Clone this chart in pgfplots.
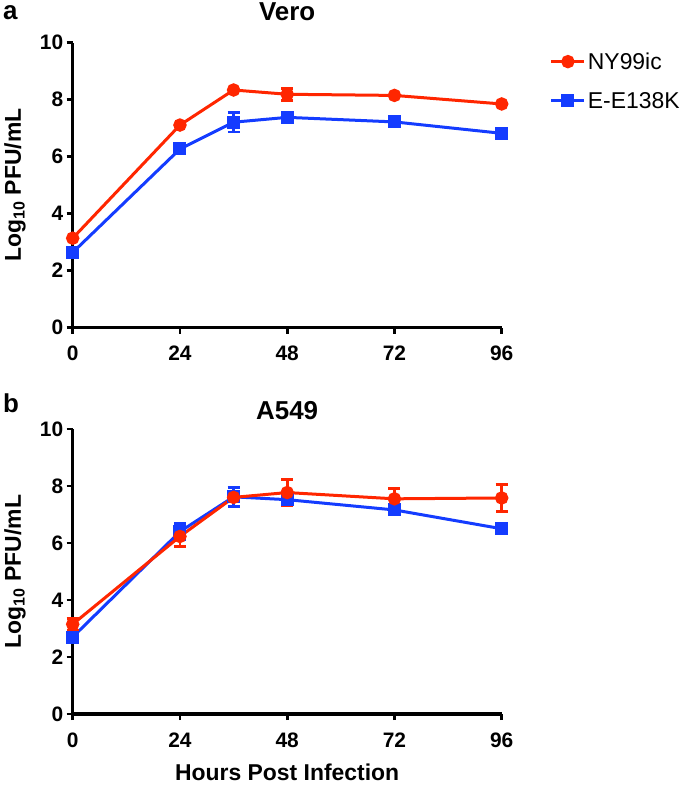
\documentclass[border=0pt]{standalone}
\usepackage{fontspec}
\setmainfont{Liberation Sans}
\usepackage{pgfplots}
\pgfplotsset{compat=1.18}
\definecolor{myred}{RGB}{255,38,0}
\definecolor{myblue}{RGB}{20,60,255}
\pgfplotsset{
  redline/.style={color=myred, line width=3bp, mark=*, mark size=5.2bp, mark options={solid}},
  blueline/.style={color=myblue, line width=3bp, mark=square*, mark size=5bp, mark options={solid}},
  errred/.style={forget plot, mark=none, draw=none, error bars/.cd, y dir=both, y explicit,
    error bar style={draw=myred, line width=2.6bp},
    error mark options={draw=myred, rotate=90, mark size=6bp, line width=2.6bp}},
  errblue/.style={forget plot, mark=none, draw=none, error bars/.cd, y dir=both, y explicit,
    error bar style={draw=myblue, line width=2.6bp},
    error mark options={draw=myblue, rotate=90, mark size=6bp, line width=2.6bp}},
  growth/.style={
    scale only axis, width=429bp, height=285bp,
    xmin=0, xmax=96, ymin=0, ymax=10,
    axis x line*=bottom, axis y line*=left,
    axis line style={line width=3.2bp, black},
    xtick={0,24,48,72,96}, ytick={0,2,...,10},
    tick align=outside, major tick length=6bp,
    every tick/.style={black, line width=2.8bp},
    tick label style={font=\fontsize{21}{21}\selectfont\bfseries},
    xticklabel style={yshift=-9bp},
    /pgf/number format/assume math mode=true,
    clip=false,
    title style={font=\fontsize{26}{26}\selectfont\bfseries, anchor=center},
    ylabel={Log\textsubscript{10} PFU/mL},
    ylabel style={font=\fontsize{23}{23}\selectfont\bfseries, at={(axis description cs:-0.1345,0.5)}, anchor=center},
  }
}
\begin{document}
\begin{tikzpicture}
\path[use as bounding box] (0,0) rectangle (685bp,786bp);
% top panel
\begin{axis}[growth, at={(72.7bp,458.3bp)}, anchor=south west,
  title={Vero}, title style={at={(axis description cs:0.5,1.0867)}},
  legend style={draw=none, fill=none, font=\fontsize{23}{23}\selectfont,
    at={(1.105,0.98)}, anchor=north west, row sep=17.5bp, cells={anchor=west}},
  legend image code/.code={\draw[mark repeat=2,mark phase=2,#1] plot coordinates {(0bp,0bp) (16.5bp,0bp) (33bp,0bp)};},
]
\addlegendimage{redline}
\addlegendentry{NY99ic}
\addlegendimage{blueline}
\addlegendentry{E-E138K}
\addplot[errblue] coordinates {(36,7.21) +- (0,0.34)};
\addplot[blueline, forget plot] coordinates {(0,2.64) (24,6.27) (36,7.21) (48,7.38) (72,7.22) (96,6.82)};
\addplot[errred] coordinates {(48,8.19) +- (0,0.21)};
\addplot[redline, forget plot] coordinates {(0,3.14) (24,7.11) (36,8.34) (48,8.19) (72,8.15) (96,7.85)};
\end{axis}
% bottom panel
\begin{axis}[growth, at={(72.7bp,72bp)}, anchor=south west,
  title={A549}, title style={at={(axis description cs:0.5,1.044)}},
  xlabel={Hours Post Infection},
  xlabel style={font=\fontsize{23}{23}\selectfont\bfseries, at={(axis description cs:0.5,-0.232)}, anchor=base, inner sep=0pt, outer sep=0pt},
]
\addplot[errblue] coordinates {(24,6.40) +- (0,0.29) (36,7.62) +- (0,0.33)};
\addplot[blueline, forget plot] coordinates {(0,2.70) (24,6.40) (36,7.62) (48,7.52) (72,7.16) (96,6.50)};
\addplot[errred] coordinates {(0,3.15) +- (0,0.2) (24,6.23) +- (0,0.36) (48,7.77) +- (0,0.45) (72,7.55) +- (0,0.36) (96,7.58) +- (0,0.47)};
\addplot[redline, forget plot] coordinates {(0,3.15) (24,6.23) (36,7.60) (48,7.77) (72,7.55) (96,7.58)};
\end{axis}
\node[font=\fontsize{26}{26}\selectfont\bfseries, anchor=base west, inner sep=0pt] at (3bp,766bp) {a};
\node[font=\fontsize{26}{26}\selectfont\bfseries, anchor=base west, inner sep=0pt] at (3bp,373bp) {b};
\end{tikzpicture}
\end{document}
